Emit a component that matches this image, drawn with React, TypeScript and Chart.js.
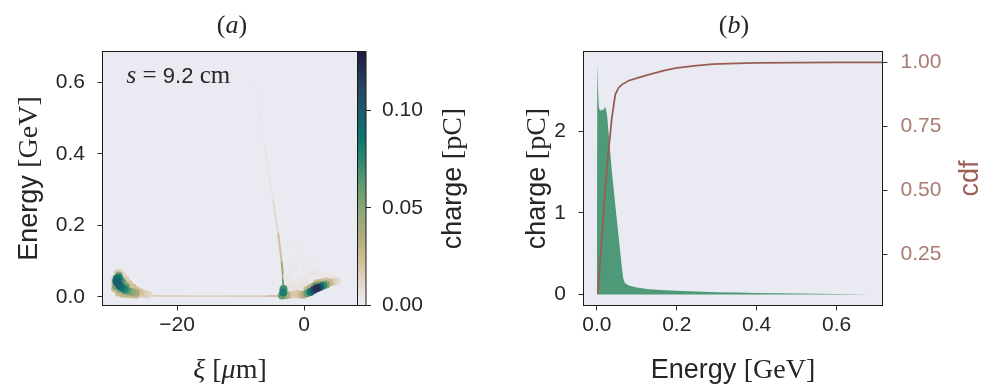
import React, { useEffect, useRef } from "react";
import { Chart, registerables } from "chart.js";

Chart.register(...registerables);

// ===================== DATA =====================
// Panel (a) ticks
const xiTicks = [-20, 0];
const xiTickLabels = ["\u221220", "0"];
const energyTicksA = [0, 0.2, 0.4, 0.6];
const energyTickLabelsA = ["0.0", "0.2", "0.4", "0.6"];
const colorbarTicks = [0, 0.05, 0.1];
const colorbarTickLabels = ["0.00", "0.05", "0.10"];

// Panel (a) histogram cells: xi [um], energy [GeV], charge [pC]
const cellXi = [
  // trailing bunch (left)
  -29.9, -29.7, -29.4, -29.0, -28.6, -28.1, -27.6, -27.0, -26.4, -25.8, -25.2, -24.6, -29.8, -29.2, -28.5, -27.8, -27.1, -26.4,
  -29.6, -29.0, -28.3, -27.7, -27.1, -26.5, -28.6, -28.1, -29.2,
  -29.5, -29.4, -29.1, -28.7, -28.3, -29.2, -28.9, -29.6, -28.0,
  // driver region (right)
  0.5, 1.0, 1.5, 2.0, 2.5, 3.0, 3.5, 1.8, 2.4,
  0.0, -0.5, 1.0, 1.5, 2.0, 2.8, 3.4, 4.0, 4.5, 5.1, 0.5, -1.0, -1.5, -2.2, -2.8,
  -3.3, -3.25, -3.5,
  -2.6, -2.0, -1.4, -0.8, -0.4, 0.2, 0.8, -1.6, 0.0, 1.6, 2.6, 1.0, -0.8, 3.6, -2.7, -2.2, 4.5, -1.2,
];
const cellEnergy = [
  0.040, 0.052, 0.066, 0.068, 0.060, 0.048, 0.036, 0.026, 0.018, 0.012, 0.008, 0.006, 0.024, 0.012, 0.009, 0.008, 0.007, 0.006,
  0.030, 0.022, 0.018, 0.016, 0.014, 0.011, 0.040, 0.030, 0.060,
  0.050, 0.040, 0.032, 0.026, 0.022, 0.054, 0.045, 0.044, 0.020,
  0.010, 0.014, 0.019, 0.024, 0.028, 0.032, 0.035, 0.030, 0.034,
  0.007, 0.006, 0.024, 0.030, 0.038, 0.040, 0.043, 0.040, 0.042, 0.044, 0.020, 0.008, 0.007, 0.006, 0.005,
  0.012, 0.022, 0.004,
  0.025, 0.040, 0.028, 0.050, 0.030, 0.045, 0.060, 0.075, 0.085, 0.070, 0.060, 0.105, 0.115, 0.058, 0.055, 0.090, 0.055, 0.140,
];
const cellCharge = [
  0.012, 0.018, 0.015, 0.01, 0.012, 0.016, 0.02, 0.022, 0.022, 0.02, 0.016, 0.012, 0.025, 0.025, 0.028, 0.028, 0.024, 0.02,
  0.055, 0.05, 0.055, 0.058, 0.048, 0.038, 0.05, 0.055, 0.05,
  0.09, 0.1, 0.095, 0.085, 0.075, 0.08, 0.07, 0.08, 0.065,
  0.06, 0.085, 0.11, 0.12, 0.10, 0.075, 0.05, 0.06, 0.05,
  0.035, 0.025, 0.035, 0.03, 0.025, 0.025, 0.02, 0.025, 0.015, 0.01, 0.025, 0.018, 0.014, 0.018, 0.035,
  0.08, 0.07, 0.06,
  0.004, 0.004, 0.006, 0.003, 0.006, 0.005, 0.003, 0.003, 0.002, 0.003, 0.003, 0.002, 0.002, 0.003, 0.004, 0.002, 0.003, 0.002,
];

// Panel (a) thin rising streak
const streakXi = [-3.45, -3.3, -3.35, -3.55, -4.1, -4.9, -6.3, -7.8];
const streakEnergy = [0.004, 0.03, 0.06, 0.1, 0.18, 0.27, 0.43, 0.61];
const streakCharge = [0.05, 0.06, 0.05, 0.03, 0.014, 0.007, 0.003, 0.0015];

// Panel (a) low-energy floor
const floorXi = [-27.5, -24, -18, -12, -6, -3.5];
const floorEnergy = [0.004, 0.003, 0.002, 0.002, 0.002, 0.003];
const floorCharge = [0.02, 0.016, 0.014, 0.014, 0.016, 0.03];

// Panel (b)
const energyTicksB = [0, 0.2, 0.4, 0.6];
const energyTickLabelsB = ["0.0", "0.2", "0.4", "0.6"];
const chargeTicksB = [0, 1, 2];
const chargeTickLabelsB = ["0", "1", "2"];
const cdfTicks = [0.25, 0.5, 0.75, 1.0];
const cdfTickLabels = ["0.25", "0.50", "0.75", "1.00"];

const spectrumEnergy = [
  0, 0.001, 0.003, 0.005, 0.008, 0.012, 0.016, 0.02, 0.023, 0.026, 0.029, 0.0375, 0.046, 0.054, 0.0625, 0.066, 0.07,
  0.08, 0.1, 0.13, 0.17, 0.2, 0.25, 0.3, 0.35, 0.4, 0.45, 0.5, 0.55, 0.6, 0.65, 0.68,
];
const spectrumCharge = [
  0, 2.84, 2.5, 2.3, 2.25, 2.27, 2.26, 2.3, 2.27, 2.18, 2.0, 1.51, 1.1, 0.73, 0.33, 0.2, 0.14,
  0.11, 0.085, 0.065, 0.052, 0.045, 0.036, 0.029, 0.023, 0.018, 0.014, 0.011, 0.008, 0.006, 0.003, 0,
];
const cdfEnergy = [
  0.0025, 0.008, 0.015, 0.021, 0.029, 0.0375, 0.046, 0.054, 0.0625, 0.079, 0.104, 0.137, 0.17, 0.2, 0.25, 0.29, 0.35,
  0.4, 0.5, 0.6, 0.715,
];
const cdfValue = [
  0.098, 0.22, 0.37, 0.51, 0.653, 0.783, 0.874, 0.9, 0.913, 0.928, 0.94, 0.955, 0.968, 0.978, 0.987, 0.993, 0.996,
  0.998, 0.999, 1.0, 1.0,
];

// ===================== STYLE =====================
const W = 988;
const H = 387;
const SANS = '"Liberation Sans", Arial, Helvetica, sans-serif';
const SERIF = '"Liberation Serif", "Times New Roman", serif';
const INK = "#262626";
const FRAME = "#1a1a1a";
const BG = "#eaeaf2";
const FILL_GREEN = "#4e9a78";
const BROWN = "#985d52";
const BROWN_TICK = "#a87c72";
const BROWN_LABEL = "#9a6154";
const CB_MAX = 0.13;

const CMAP_STOPS: [number, number[]][] = [
  [0.0, [236, 235, 242]],
  [0.006, [232, 225, 222]],
  [0.013, [224, 211, 199]],
  [0.022, [211, 191, 152]],
  [0.035, [176, 172, 128]],
  [0.05, [138, 166, 118]],
  [0.063, [92, 154, 110]],
  [0.075, [42, 134, 112]],
  [0.086, [12, 117, 112]],
  [0.098, [26, 94, 106]],
  [0.11, [39, 72, 101]],
  [0.124, [35, 40, 74]],
  [0.13, [30, 28, 58]],
];

function cmap(q: number): string {
  const s = CMAP_STOPS;
  if (q <= s[0][0]) return `rgb(${s[0][1].join(",")})`;
  for (let i = 1; i < s.length; i++) {
    if (q <= s[i][0]) {
      const t = (q - s[i - 1][0]) / (s[i][0] - s[i - 1][0]);
      const a = s[i - 1][1];
      const b = s[i][1];
      const c = a.map((v, k) => Math.round(v + (b[k] - v) * t));
      return `rgb(${c.join(",")})`;
    }
  }
  return `rgb(${s[s.length - 1][1].join(",")})`;
}

type Run = { t: string; f: string };
function drawRuns(
  ctx: CanvasRenderingContext2D,
  runs: Run[],
  x: number,
  y: number,
  rot: number,
  color: string,
  align: "center" | "left" = "center"
) {
  ctx.save();
  ctx.translate(x, y);
  ctx.rotate(rot);
  ctx.fillStyle = color;
  ctx.textBaseline = "alphabetic";
  ctx.textAlign = "left";
  let total = 0;
  for (const r of runs) {
    ctx.font = r.f;
    total += ctx.measureText(r.t).width;
  }
  let cx = align === "center" ? -total / 2 : 0;
  for (const r of runs) {
    ctx.font = r.f;
    ctx.fillText(r.t, cx, 0);
    cx += ctx.measureText(r.t).width;
  }
  ctx.restore();
}

const sans = (s: number) => `${s}px ${SANS}`;
const serif = (s: number) => `${s}px ${SERIF}`;
const iserif = (s: number) => `italic ${s}px ${SERIF}`;

function axis(
  position: "left" | "right" | "bottom",
  min: number,
  max: number,
  ticks: number[],
  labels: string[],
  size: number,
  pad: number,
  color = INK
): any {
  return {
    type: "linear",
    position,
    min,
    max,
    afterBuildTicks: (s: any) => {
      s.ticks = ticks.map((v) => ({ value: v }));
    },
    afterFit: (s: any) => {
      if (position === "bottom") s.height = size;
      else s.width = size;
    },
    ticks: {
      callback: (_v: any, i: number) => labels[i],
      font: { family: SANS, size: 21 },
      color,
      padding: pad,
      autoSkip: false,
      maxRotation: 0,
      minRotation: 0,
    },
    grid: { drawOnChartArea: false, drawTicks: true, tickLength: 5, color: "#2a2a2a", lineWidth: 1 },
    border: { display: false },
  };
}

function bgFrame(fillBg: boolean) {
  return {
    id: "bgFrame",
    beforeDraw(chart: any) {
      if (!fillBg) return;
      const { ctx, chartArea: a } = chart;
      ctx.save();
      ctx.fillStyle = BG;
      ctx.fillRect(a.left, a.top, a.right - a.left, a.bottom - a.top);
      ctx.restore();
    },
    afterDraw(chart: any) {
      const { ctx, chartArea: a } = chart;
      ctx.save();
      ctx.strokeStyle = FRAME;
      ctx.lineWidth = 1;
      ctx.strokeRect(a.left, a.top, a.right - a.left, a.bottom - a.top);
      ctx.restore();
    },
  };
}

function texts(fn: (chart: any) => void) {
  return { id: "texts", afterDraw: fn };
}

const baseOpts = {
  responsive: false,
  maintainAspectRatio: false,
  animation: false as const,
  events: [] as any[],
};
const noPlugins = { legend: { display: false }, tooltip: { enabled: false }, title: { display: false } };

export default function App() {
  const refA = useRef<HTMLCanvasElement>(null);
  const refCb = useRef<HTMLCanvasElement>(null);
  const refB = useRef<HTMLCanvasElement>(null);

  useEffect(() => {
    const cells = cellXi
      .map((x, i) => ({ x, y: cellEnergy[i], q: cellCharge[i] }))
      .sort((p, q) => p.q - q.q);
    const streak = streakXi.map((x, i) => ({ x, y: streakEnergy[i] }));
    const floor = floorXi.map((x, i) => ({ x, y: floorEnergy[i] }));

    const chartA = new Chart(refA.current as HTMLCanvasElement, {
      type: "scatter",
      data: {
        datasets: [
          {
            label: "cells",
            data: cells,
            pointStyle: "circle",
            pointRadius: 4,
            pointBorderWidth: 0,
            pointBackgroundColor: (c: any) => cmap(c.raw ? c.raw.q : 0),
            order: 0,
          } as any,
          {
            label: "streak",
            data: streak,
            showLine: true,
            pointRadius: 0,
            borderWidth: 2,
            borderColor: cmap(0.02),
            segment: {
              borderColor: (c: any) => cmap((streakCharge[c.p0DataIndex] + streakCharge[c.p1DataIndex]) / 2),
            },
            order: 1,
          } as any,
          {
            label: "floor",
            data: floor,
            showLine: true,
            pointRadius: 0,
            borderWidth: 1.8,
            borderColor: cmap(0.015),
            segment: {
              borderColor: (c: any) => cmap((floorCharge[c.p0DataIndex] + floorCharge[c.p1DataIndex]) / 2),
            },
            order: 2,
          } as any,
        ],
      },
      options: {
        ...baseOpts,
        layout: { padding: { left: 42.5, right: 630.5, top: 51.5, bottom: 41.5 } },
        plugins: noPlugins,
        scales: {
          x: axis("bottom", -31.75, 8.4, xiTicks, xiTickLabels, 40, 2),
          y: axis("left", -0.024, 0.686, energyTicksA, energyTickLabelsA, 60, 12.5),
        },
      } as any,
      plugins: [
        bgFrame(true),
        texts((chart) => {
          const { ctx, chartArea: a } = chart;
          const cx = (a.left + a.right) / 2;
          const cy = (a.top + a.bottom) / 2;
          drawRuns(ctx, [{ t: "(", f: serif(26) }, { t: "a", f: iserif(26) }, { t: ")", f: serif(26) }], cx + 2, 33, 0, INK);
          drawRuns(
            ctx,
            [
              { t: "\u03be", f: iserif(28) },
              { t: " [", f: serif(28) },
              { t: "\u03bc", f: iserif(28) },
              { t: "m]", f: serif(28) },
            ],
            cx,
            a.bottom + 72,
            0,
            INK
          );
          drawRuns(ctx, [{ t: "Energy ", f: sans(27) }, { t: "[GeV]", f: serif(28) }], a.left - 66, cy, -Math.PI / 2, INK);
          drawRuns(
            ctx,
            [
              { t: "s", f: iserif(25) },
              { t: " = ", f: serif(25) },
              { t: "9.2", f: sans(22) },
              { t: " cm", f: serif(25) },
            ],
            a.left + 24,
            a.top + 31,
            0,
            INK,
            "left"
          );
        }),
      ],
    });

    const chartCb = new Chart(refCb.current as HTMLCanvasElement, {
      type: "bar",
      data: {
        labels: [""],
        datasets: [
          {
            label: "colorbar",
            data: [[0, CB_MAX]] as any,
            barPercentage: 1,
            categoryPercentage: 1,
            borderWidth: 0,
            backgroundColor: (c: any) => {
              const ch = c.chart;
              if (!ch.chartArea) return "#888";
              const ys = ch.scales.y;
              const g = ch.ctx.createLinearGradient(0, ys.getPixelForValue(0), 0, ys.getPixelForValue(CB_MAX));
              for (const [q, rgb] of CMAP_STOPS) g.addColorStop(q / CB_MAX, `rgb(${rgb.join(",")})`);
              return g;
            },
          } as any,
        ],
      },
      options: {
        ...baseOpts,
        layout: { padding: { left: 357.5, right: 562, top: 51.5, bottom: 81.5 } },
        plugins: noPlugins,
        scales: {
          x: { type: "category", display: false, offset: true },
          y: axis("right", 0, CB_MAX, colorbarTicks, colorbarTickLabels, 60, 11),
        },
      } as any,
      plugins: [
        bgFrame(false),
        texts((chart) => {
          const { ctx, chartArea: a } = chart;
          drawRuns(
            ctx,
            [{ t: "charge ", f: sans(27) }, { t: "[pC]", f: serif(28) }],
            a.right + 95,
            (a.top + a.bottom) / 2,
            -Math.PI / 2,
            INK
          );
        }),
      ],
    });

    const chartB = new Chart(refB.current as HTMLCanvasElement, {
      type: "scatter",
      data: {
        datasets: [
          {
            label: "charge",
            data: spectrumEnergy.map((x, i) => ({ x, y: spectrumCharge[i] })),
            showLine: true,
            fill: "origin",
            backgroundColor: FILL_GREEN,
            borderColor: "rgba(0,0,0,0)",
            borderWidth: 0,
            pointRadius: 0,
            yAxisID: "y",
            order: 2,
          } as any,
          {
            label: "cdf",
            data: cdfEnergy.map((x, i) => ({ x, y: cdfValue[i] })),
            showLine: true,
            fill: false,
            borderColor: BROWN,
            borderWidth: 1.8,
            pointRadius: 0,
            yAxisID: "y2",
            order: 1,
          } as any,
        ],
      },
      options: {
        ...baseOpts,
        layout: { padding: { left: 523.5, right: 45.5, top: 51.5, bottom: 41.5 } },
        plugins: noPlugins,
        scales: {
          x: axis("bottom", -0.0335, 0.715, energyTicksB, energyTickLabelsB, 40, 2),
          y: axis("left", -0.135, 2.98, chargeTicksB, chargeTickLabelsB, 60, 12.5),
          y2: axis("right", 0.052, 1.042, cdfTicks, cdfTickLabels, 60, 13, BROWN_TICK),
        },
      } as any,
      plugins: [
        bgFrame(true),
        texts((chart) => {
          const { ctx, chartArea: a } = chart;
          const cx = (a.left + a.right) / 2;
          const cy = (a.top + a.bottom) / 2;
          drawRuns(ctx, [{ t: "(", f: serif(26) }, { t: "b", f: iserif(26) }, { t: ")", f: serif(26) }], cx + 1, 33, 0, INK);
          drawRuns(ctx, [{ t: "Energy ", f: sans(27) }, { t: "[GeV]", f: serif(28) }], cx, a.bottom + 72, 0, INK);
          drawRuns(ctx, [{ t: "charge ", f: sans(27) }, { t: "[pC]", f: serif(28) }], a.left - 39, cy, -Math.PI / 2, INK);
          drawRuns(ctx, [{ t: "cdf", f: sans(27) }], a.right + 95, cy, -Math.PI / 2, BROWN_LABEL);
        }),
      ],
    });

    return () => {
      chartA.destroy();
      chartCb.destroy();
      chartB.destroy();
    };
  }, []);

  const cs: React.CSSProperties = { position: "absolute", left: 0, top: 0, width: W, height: H };
  return (
    <div style={{ position: "fixed", left: 0, top: 0, width: W, height: H, background: "#ffffff" }}>
      <canvas ref={refA} width={W} height={H} style={cs} />
      <canvas ref={refCb} width={W} height={H} style={cs} />
      <canvas ref={refB} width={W} height={H} style={cs} />
    </div>
  );
}
